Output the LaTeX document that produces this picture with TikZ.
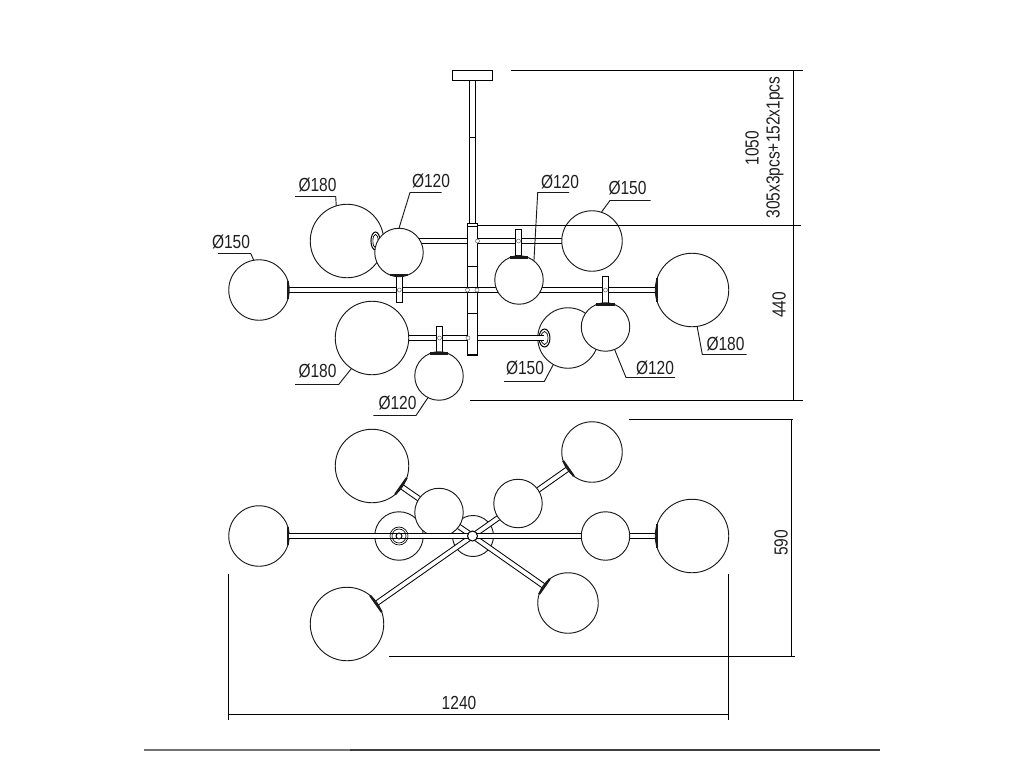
\documentclass[tikz,border=0pt]{standalone}
\usetikzlibrary{shapes.geometric}
\usepackage{fontspec}
\setmainfont{Liberation Sans}[FakeStretch=0.82]
\newcommand{\capmark}[3]{%
  \pgfmathsetmacro{\capA}{#2-#3}\pgfmathsetmacro{\capB}{#2+#3}%
  \draw[capline] (#1.\capA) -- (#1.\capB);}
\newcommand{\leaderline}[4]{%
  \coordinate (#1a) at (#2); \coordinate (#1b) at (#3);
  \draw[leader] (#1a) -- (#1b) -- (#4);}
\tikzset{
  globe/.style={circle,draw=black!90,line width=0.7pt,fill=white,inner sep=0pt,outer sep=0pt,minimum size=#1*0.75pt},
  arm/.style={draw=black,line width=0.75pt,double=white,double distance=2.8pt},
  part/.style={draw=black,line width=0.75pt,fill=white},
  capline/.style={draw=black!90,line width=1.6pt},
  dimline/.style={draw=black,line width=0.75pt},
  leader/.style={draw=black!90,line width=0.7pt},
  lab/.style={inner sep=0pt,text=black!88,font=\fontsize{14.2}{17}\selectfont},
  vlab/.style={lab,rotate=90},
  jointdot/.style={draw=black!60,line width=0.4pt,fill=white,circle,inner sep=0pt,minimum size=3pt}
}
\begin{document}
\begin{tikzpicture}[x=0.75pt,y=-0.75pt]
\useasboundingbox (0,0) rectangle (1024,768);
% ---------- side view: centres
\coordinate (cA) at (259,290);  \coordinate (cB) at (347,241);
\coordinate (cC) at (399,252.5);\coordinate (cD) at (519,280);
\coordinate (cE) at (592,241);  \coordinate (cF) at (692,290);
\coordinate (cG) at (372,338);  \coordinate (cH) at (439,376);
\coordinate (cI) at (568,338);  \coordinate (cJ) at (605.5,327);
% ceiling plate and rod
\node[part,minimum width=30.7pt,minimum height=7.5pt,inner sep=0pt,outer sep=0pt] (plate) at (472.5,75) {};
\node[part,minimum width=5.2pt,minimum height=107pt,inner sep=0pt,outer sep=0pt] (rod) at (472.5,152) {};
\coordinate (rodL) at (469,137); \coordinate (rodR) at (476,137);
\draw[part] (rodL) -- (rodR);
% arms behind the tube
\coordinate (a1L) at (399,241); \coordinate (a1M) at (467,241);
\coordinate (a1N) at (477,241); \coordinate (a1R) at (592,241);
\coordinate (a2L) at (259,290); \coordinate (a2R) at (692,290);
\coordinate (a3L) at (372,338); \coordinate (a3M) at (467,338);
\coordinate (a3N) at (478,338); \coordinate (a3R) at (544,338);
\draw[arm] (a1L) -- (a1M);
\draw[arm] (a1N) -- (a1R);
\draw[arm] (a3L) -- (a3M);
\draw[arm] (a3N) -- (a3R);
% tube
\node[part,minimum width=7.5pt,minimum height=99.5pt,inner sep=0pt,outer sep=0pt] (tube) at (472,289.5) {};
\coordinate (t1) at (467,226);\coordinate (t1r) at (477,226);
\coordinate (t2) at (467,266);\coordinate (t2r) at (477,266);
\coordinate (t3) at (467,313);\coordinate (t3r) at (477,313);
\coordinate (t4) at (467,354.5);\coordinate (t4r) at (477,354.5);
\draw[part] (t1) -- (t1r) (t2) -- (t2r) (t3) -- (t3r) (t4) -- (t4r);
\draw[arm] (a2L) -- (a2R);
\node[jointdot] (j1) at (467.5,290) {}; \node[jointdot] (j2) at (477,290) {};
\node[jointdot] (j3) at (477.5,241) {}; \node[jointdot] (j4) at (468,338) {};
% stems
\node[part,minimum width=4.5pt,minimum height=19pt,inner sep=0pt,outer sep=0pt] (s1) at (399.3,289.5) {};
\node[part,minimum width=5pt,minimum height=20pt,inner sep=0pt,outer sep=0pt] (s2) at (518.5,242.5) {};
\node[part,minimum width=5pt,minimum height=20pt,inner sep=0pt,outer sep=0pt] (s3) at (605.5,290) {};
\node[part,minimum width=5pt,minimum height=19pt,inner sep=0pt,outer sep=0pt] (s4) at (439.5,339.5) {};
\node[jointdot] (j5) at (399.3,290) {}; \node[jointdot] (j6) at (518.5,241) {};
\node[jointdot] (j7) at (605.5,290) {}; \node[jointdot] (j8) at (439.5,338) {};
% globes
\node[globe=60.5] (gA) at (cA) {};
\node[globe=73.5] (gB) at (cB) {};
\node[part,ellipse,inner sep=0pt,minimum width=6.8pt,minimum height=13.5pt] (earB) at (375.5,241) {};
\node[draw=black,line width=0.5pt,ellipse,inner sep=0pt,minimum width=4pt,minimum height=10pt] (earBi) at (375.5,241) {};
\node[globe=48.5] (gC) at (cC) {};
\node[globe=48.5] (gD) at (cD) {};
\node[globe=60.5] (gE) at (cE) {};
\node[globe=73.5] (gF) at (cF) {};
\node[globe=73.5] (gG) at (cG) {};
\node[globe=48.5] (gH) at (cH) {};
\node[globe=60.5] (gI) at (cI) {};
\node[part,ellipse,inner sep=0pt,minimum width=8.2pt,minimum height=13.5pt] (earI) at (544.5,338) {};
\node[draw=black,line width=0.5pt,ellipse,inner sep=0pt,minimum width=5.2pt,minimum height=9.8pt] (earIi) at (544.5,338) {};
\draw[arm] (a3N) -- (a3R);
\node[globe=48.5] (gJ) at (cJ) {};
\capmark{gA}{0}{18}
\capmark{gF}{180}{19}
\capmark{gC}{270}{22}
\capmark{gD}{90}{22}
\capmark{gJ}{90}{22}
\capmark{gH}{90}{22}
% ---------- plan view
\coordinate (pHub) at (472.5,536);
\coordinate (pA) at (259,536); \coordinate (pF) at (692,536);
\coordinate (pB) at (372,466); \coordinate (pE) at (592,452);
\coordinate (pG) at (347,624); \coordinate (pI) at (568,603);
\node[globe=48.5] (qBack) at (399,536) {};
\node[globe=41] (qCentre) at (473,536) {};
\draw[arm] (pHub) -- (pB);
\draw[arm] (pHub) -- (pE);
\draw[arm] (pHub) -- (pG);
\draw[arm] (pHub) -- (pI);
\draw[arm] (pHub) -- (pF);
\node[globe=60.5] (qA) at (pA) {};
\node[globe=73.5] (qF) at (pF) {};
\node[globe=48.5] (qJ) at (605.5,536) {};
\node[globe=73.5] (qB) at (pB) {};
\node[globe=60.5] (qE) at (pE) {};
\node[globe=73.5] (qG) at (pG) {};
\node[globe=60.5] (qI) at (pI) {};
\node[globe=48.5] (qD) at (518,503.5) {};
\node[globe=48.5] (qC) at (439,512.5) {};
\draw[arm] (pHub) -- (qA);
\node[draw=black,line width=0.5pt,circle,inner sep=0pt,minimum size=13.5pt] (r1) at (399,536) {};
\node[draw=black,line width=0.5pt,circle,inner sep=0pt,minimum size=10.5pt] (r2) at (399,536) {};
\node[part,circle,inner sep=0pt,minimum size=4.5pt] (r4) at (399,536) {};
\node[part,circle,inner sep=0pt,minimum size=7.5pt] (hub) at (pHub) {};
\capmark{qA}{0}{18}
\capmark{qF}{180}{19}
\capmark{qB}{-35}{16}
\capmark{qE}{215}{18}
\capmark{qG}{35}{16}
\capmark{qI}{145}{18}
% ---------- dimensions
\coordinate (d1a) at (511,70.5); \coordinate (d1b) at (803,70.5);
\coordinate (d2a) at (478,225.5);  \coordinate (d2b) at (801,225.5);
\coordinate (d3a) at (470,400.5);  \coordinate (d3b) at (803,400.5);
\coordinate (d4) at (793.5,70.5);  \coordinate (d5) at (793.5,400.5);
\draw[dimline] (d1a) -- (d1b); \draw[dimline] (d2a) -- (d2b);
\draw[dimline] (d3a) -- (d3b); \draw[dimline] (d4) -- (d5);
\coordinate (e1a) at (629,419.5); \coordinate (e1b) at (793,419.5);
\coordinate (e2a) at (389,656.5); \coordinate (e2b) at (795,656.5);
\coordinate (e3) at (791.5,419.5);  \coordinate (e4) at (791.5,656.5);
\draw[dimline] (e1a) -- (e1b); \draw[dimline] (e2a) -- (e2b); \draw[dimline] (e3) -- (e4);
\coordinate (f1) at (228.5,574); \coordinate (f2) at (228.5,720);
\coordinate (f3) at (728.5,574); \coordinate (f4) at (728.5,720);
\coordinate (f5) at (228.5,714.5); \coordinate (f6) at (728.5,714.5);
\draw[dimline] (f1) -- (f2); \draw[dimline] (f3) -- (f4); \draw[dimline] (f5) -- (f6);
% bottom rule
\coordinate (b1) at (144,750); \coordinate (b2) at (350,750); \coordinate (b3) at (880,750);
\draw[draw=black!55,line width=1pt] (b1) -- (b2);
\draw[draw=black!75,line width=0.9pt] (b2) -- (b3);
% ---------- leaders
\leaderline{l1}{295,196.5}{335.7,196.5}{gB.107}
\leaderline{l2}{441.7,192.5}{410,192.5}{gC.90}
\leaderline{l3}{218,253.5}{250.7,253.5}{gA.100}
\leaderline{l4}{569,192.5}{537.7,192.5}{gD.52}
\leaderline{l5}{650.7,200.5}{610,200.5}{gE.72}
\leaderline{l6}{746.7,354.5}{702.3,354.5}{gF.-82}
\leaderline{l7}{675,377.5}{626,377.5}{gJ.-68}
\leaderline{l8}{504,381.5}{544.3,381.5}{gI.241}
\leaderline{l9}{295,384.5}{338.7,384.5}{gG.236}
\leaderline{l10}{373.3,415.5}{416,415.5}{gH.243}
% ---------- labels
\node[lab] (t180a) at (317.5,185) {Ø180};
\node[lab] (t120a) at (431,180.5) {Ø120};
\node[lab] (t150a) at (231,241.5) {Ø150};
\node[lab] (t120b) at (560,182) {Ø120};
\node[lab] (t150b) at (627.5,188) {Ø150};
\node[lab] (t180b) at (725.5,344) {Ø180};
\node[lab] (t120c) at (655,368) {Ø120};
\node[lab] (t150c) at (525,368) {Ø150};
\node[lab] (t180c) at (317.5,371) {Ø180};
\node[lab] (t120d) at (397.5,403) {Ø120};
\node[vlab] (v1050) at (752,148) {1050};
\node[vlab] (vtube) at (775,147.5) {305x3pcs+152x1pcs};
\node[vlab] (v440) at (779,305) {440};
\node[vlab] (v590) at (781,543) {590};
\node[lab] (h1240) at (459,703) {1240};
\end{tikzpicture}
\end{document}
